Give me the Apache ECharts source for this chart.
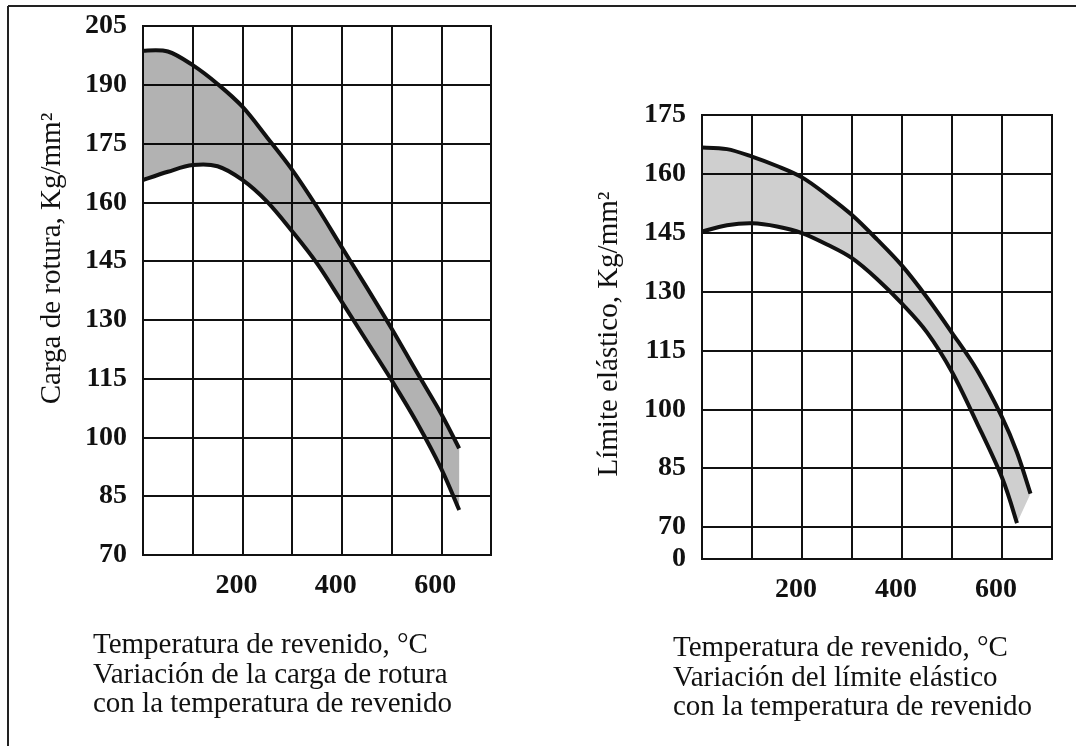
<!DOCTYPE html>
<html>
<head>
<meta charset="utf-8">
<script src="https://cdn.jsdelivr.net/npm/echarts@6/dist/echarts.min.js"></script>
<style>
  html, body { margin: 0; padding: 0; background: #fff; }
  #chart { width: 1076px; height: 746px; }
</style>
</head>
<body>
<div id="chart"></div>
<script>
// Carga de rotura (Kg/mm²) frente a la temperatura de revenido (°C)
const tempsRotura = [0, 50, 100, 150, 200, 250, 300, 350, 400, 450, 500, 550, 600, 636];
const roturaMax   = [198.7, 198.5, 195.0, 190.2, 184.4, 176.5, 168.3, 158.8, 148.5, 138.3, 127.8, 116.8, 106.0, 97.2];
const roturaMin   = [165.7, 167.8, 169.5, 169.2, 165.7, 160.1, 152.6, 144.4, 134.6, 124.6, 114.6, 104.0, 92.0, 81.5];

// Límite elástico (Kg/mm²) frente a la temperatura de revenido (°C)
const tempsLimite = [0, 50, 100, 150, 200, 250, 300, 350, 400, 450, 500, 550, 600, 630, 657];
const limiteMax   = [166.7, 166.3, 164.4, 162.0, 159.1, 154.6, 149.5, 143.3, 136.6, 128.5, 119.5, 110.0, 98.0, 89.0, 78.5];
const limiteMin   = [145.3, 146.9, 147.4, 146.6, 144.9, 142.0, 138.5, 133.2, 126.9, 119.6, 109.5, 96.5, 82.6, 71.0, null];

// Axis ticks
const tempLabels  = [200, 400, 600];
const roturaRange = [70, 205];
const limiteRange = [70, 175];
const yStep = 15;

const FONT = "'Liberation Serif', 'DejaVu Serif', serif";
const INK = '#111';

const textBase = { fontFamily: FONT, fontSize: 29, color: INK };
const tickText = { fontFamily: FONT, fontSize: 28, color: INK, fontWeight: 'bold' };

function tempAxis(gridIndex, showLabels) {
  return {
    type: 'value', gridIndex, min: 0, max: 700, interval: 100,
    axisLine: { show: false }, axisTick: { show: false },
    splitLine: { show: true, lineStyle: { color: INK, width: 2 } },
    axisLabel: {
      show: showLabels, ...tickText, margin: 17, padding: [0, 12, 0, 0],
      formatter: v => tempLabels.includes(v) ? String(v) : ''
    }
  };
}

function valueAxis(gridIndex, range, name, namePad, nameGap) {
  return {
    type: 'value', gridIndex, min: range[0], max: range[1], interval: yStep,
    axisLine: { show: false }, axisTick: { show: false },
    splitLine: { show: true, lineStyle: { color: INK, width: 2 } },
    axisLabel: { ...tickText, margin: 16 },
    name, nameLocation: 'middle', nameRotate: 90, nameGap,
    nameTextStyle: { ...textBase, padding: namePad }
  };
}

// Cubic Bézier segments (Catmull-Rom) through a list of pixel points
function curveSegments(pts) {
  let d = '';
  for (let i = 0; i < pts.length - 1; i++) {
    const p0 = pts[Math.max(i - 1, 0)], p1 = pts[i], p2 = pts[i + 1], p3 = pts[Math.min(i + 2, pts.length - 1)];
    const c1 = [p1[0] + (p2[0] - p0[0]) / 6, p1[1] + (p2[1] - p0[1]) / 6];
    const c2 = [p2[0] - (p3[0] - p1[0]) / 6, p2[1] - (p3[1] - p1[1]) / 6];
    d += ' C' + c1[0] + ',' + c1[1] + ' ' + c2[0] + ',' + c2[1] + ' ' + p2[0] + ',' + p2[1];
  }
  return d;
}

// Shaded band between the upper and lower limit curves, with both curves outlined
function band(temps, upper, lower, xi, yi, fill) {
  return {
    type: 'custom', coordinateSystem: 'cartesian2d', xAxisIndex: xi, yAxisIndex: yi,
    silent: true, clip: true, z: 3,
    data: [[temps[0], upper[0]]],
    renderItem(params, api) {
      const up = [], lo = [];
      temps.forEach((t, i) => {
        up.push(api.coord([t, upper[i]]));
        if (lower[i] != null) lo.push(api.coord([t, lower[i]]));
      });
      const loRev = lo.slice().reverse();
      const upD = 'M' + up[0][0] + ',' + up[0][1] + curveSegments(up);
      const loD = 'M' + lo[0][0] + ',' + lo[0][1] + curveSegments(lo);
      const fillD = upD + ' L' + loRev[0][0] + ',' + loRev[0][1] + curveSegments(loRev) + ' Z';
      const stroke = { fill: null, stroke: INK, lineWidth: 4, lineCap: 'butt', lineJoin: 'round' };
      return {
        type: 'group',
        children: [
          { type: 'path', shape: { pathData: fillD }, style: { fill, stroke: null } },
          { type: 'path', shape: { pathData: upD }, style: stroke },
          { type: 'path', shape: { pathData: loD }, style: stroke }
        ]
      };
    }
  };
}

const gridStyle = { show: true, borderColor: INK, borderWidth: 2, backgroundColor: 'transparent' };

const option = {
  backgroundColor: '#fff',
  animation: false,
  grid: [
    { left: 143, top: 26, width: 348, height: 529, ...gridStyle },
    { left: 702, top: 115, width: 350, height: 412, ...gridStyle },
    { left: 702, top: 527, width: 350, height: 32, ...gridStyle }
  ],
  xAxis: [tempAxis(0, true), tempAxis(1, false), tempAxis(2, true)],
  yAxis: [
    valueAxis(0, roturaRange, 'Carga de rotura, Kg/mm²', [0, 0, 0, 64], 76),
    valueAxis(1, limiteRange, 'Límite elástico, Kg/mm²', [0, 26, 0, 0], 78),
    {
      type: 'value', gridIndex: 2, min: 0, max: 1, interval: 1,
      axisLine: { show: false }, axisTick: { show: false }, splitLine: { show: false },
      axisLabel: { ...tickText, margin: 16, formatter: v => v === 0 ? '0' : '' }
    }
  ],
  title: [
    {
      text: 'Temperatura de revenido, °C\nVariación de la carga de rotura\ncon la temperatura de revenido',
      left: 93, top: 631, padding: 0,
      textStyle: { ...textBase, fontWeight: 'normal', lineHeight: 29.5 }
    },
    {
      text: 'Temperatura de revenido, °C\nVariación del límite elástico\ncon la temperatura de revenido',
      left: 673, top: 634, padding: 0,
      textStyle: { ...textBase, fontWeight: 'normal', lineHeight: 29.5 }
    }
  ],
  graphic: [
    { type: 'line', shape: { x1: 8, y1: 6, x2: 1076, y2: 6 }, style: { stroke: '#222', lineWidth: 2 } },
    { type: 'line', shape: { x1: 8, y1: 6, x2: 8, y2: 746 }, style: { stroke: '#222', lineWidth: 2 } }
  ],
  series: [
    band(tempsRotura, roturaMax, roturaMin, 0, 0, 'rgba(0,0,0,0.30)'),
    band(tempsLimite, limiteMax, limiteMin, 1, 1, 'rgba(0,0,0,0.19)')
  ]
};

const chart = echarts.init(document.getElementById('chart'), null, { renderer: 'canvas' });
chart.setOption(option);
</script>
</body>
</html>
